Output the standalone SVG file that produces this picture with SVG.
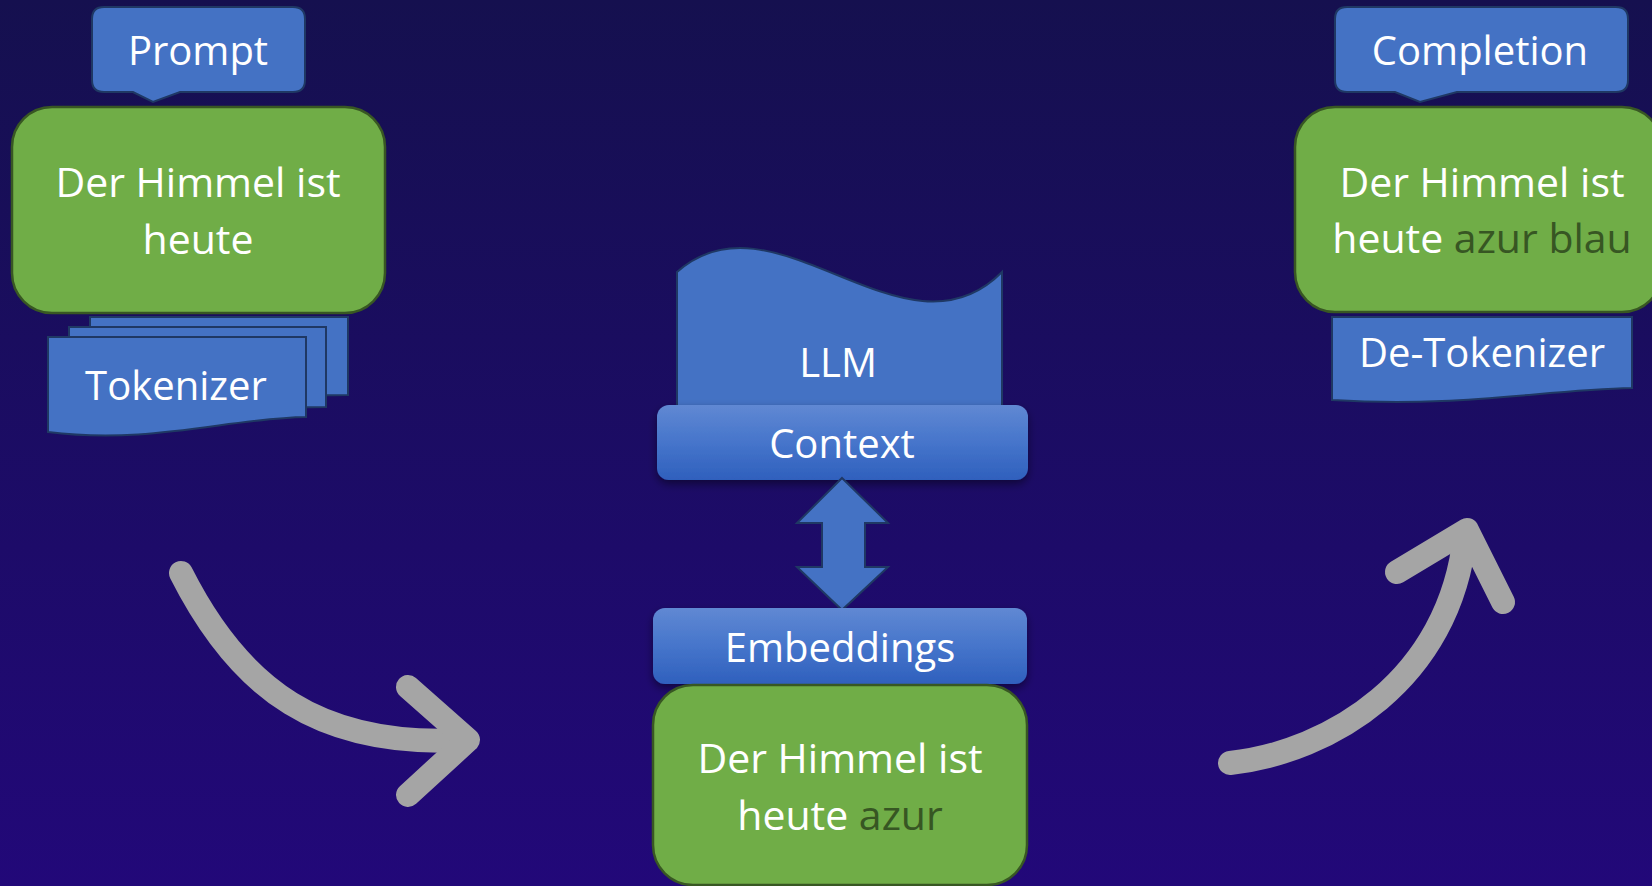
<svg xmlns="http://www.w3.org/2000/svg" width="1652" height="886" viewBox="0 0 1652 886">
  <defs>
    <linearGradient id="bg" x1="0" y1="0" x2="0" y2="1">
      <stop offset="0" stop-color="#15104f"/>
      <stop offset="1" stop-color="#220879"/>
    </linearGradient>
    <linearGradient id="bar" x1="0" y1="0" x2="0" y2="1">
      <stop offset="0" stop-color="#6088d3"/>
      <stop offset="0.5" stop-color="#4675cb"/>
      <stop offset="1" stop-color="#2f60bd"/>
    </linearGradient>
    <filter id="shadow" x="-10%" y="-20%" width="120%" height="160%">
      <feDropShadow dx="0" dy="4" stdDeviation="4" flood-color="#000000" flood-opacity="0.45"/>
    </filter>
  </defs>
  <style>
    .blue { fill: #4472c4; stroke: #1f3864; stroke-width: 2; }
    .green { fill: #70ad47; stroke: #385723; stroke-width: 2.5; }
    .bar { fill: url(#bar); filter: url(#shadow); }
    .lbl { font-family: "Open Sans", "Noto Sans", sans-serif; font-size: 40px; fill: #ffffff; text-anchor: middle; }
    .body { font-family: "Open Sans", "Noto Sans", sans-serif; font-size: 41px; fill: #ffffff; text-anchor: middle; }
    .new { fill: #375623; }
    .flow { fill: none; stroke: #a5a5a5; stroke-width: 24; stroke-linecap: round; stroke-linejoin: round; }
  </style>

  <rect width="1652" height="886" fill="url(#bg)"/>

  <!-- Prompt side -->
  <g id="prompt">
    <path class="blue" d="M104,7 H293 Q305,7 305,19 V80 Q305,92 293,92 H180 L153,102 L133,92 H104 Q92,92 92,80 V19 Q92,7 104,7 Z"/>
    <text class="lbl" x="198" y="65">Prompt</text>
  </g>
  <g id="input-text">
    <rect class="green" x="12" y="107" width="373" height="206" rx="40"/>
    <text class="body" x="198" y="197">Der Himmel ist</text>
    <text class="body" x="198" y="254">heute</text>
  </g>
  <g id="tokenizer">
    <path class="blue" d="M90,317 H348 V395 C300,396 200,392 90,400 Z"/>
    <path class="blue" d="M69,327 H326 V407 C280,408 180,404 69,412 Z"/>
    <path class="blue" d="M48,337 H306 V417 C230,418 150,445 48,432 Z"/>
    <text class="lbl" x="176" y="400">Tokenizer</text>
  </g>

  <!-- Model in the middle -->
  <g id="llm">
    <path class="blue" d="M677,272 C775,185 905,370 1002,272 V412 H677 Z"/>
    <text class="lbl" x="838" y="377">LLM</text>
  </g>
  <g id="context">
    <rect class="bar" x="657" y="405" width="371" height="75" rx="12"/>
    <text class="lbl" x="842" y="458">Context</text>
  </g>
  <g id="exchange">
    <path class="blue" d="M842,478 L888,523 H865 V567 H888 L842,610 L797,567 H822 V523 H797 Z"/>
  </g>
  <g id="embeddings">
    <rect class="bar" x="653" y="608" width="374" height="76" rx="12"/>
    <text class="lbl" x="840" y="662">Embeddings</text>
  </g>
  <g id="context-text">
    <rect class="green" x="653" y="685" width="374" height="200" rx="40"/>
    <text class="body" x="840" y="773">Der Himmel ist</text>
    <text class="body" x="840" y="830">heute <tspan class="new">azur</tspan></text>
  </g>

  <!-- Completion side -->
  <g id="completion">
    <path class="blue" d="M1347,7 H1616 Q1628,7 1628,19 V80 Q1628,92 1616,92 H1457 L1420,102 L1395,92 H1347 Q1335,92 1335,80 V19 Q1335,7 1347,7 Z"/>
    <text class="lbl" x="1480" y="65">Completion</text>
  </g>
  <g id="output-text">
    <rect class="green" x="1295" y="107" width="367" height="205" rx="40"/>
    <text class="body" x="1482" y="197">Der Himmel ist</text>
    <text class="body" x="1482" y="253">heute <tspan class="new">azur blau</tspan></text>
  </g>
  <g id="detokenizer">
    <path class="blue" d="M1332,317 H1632 V388 C1540,390 1460,408 1332,400 Z"/>
    <text class="lbl" x="1482" y="367">De-Tokenizer</text>
  </g>

  <!-- Flow arrows -->
  <g id="connectors">
    <path class="flow" d="M181,573 C240,690 320,748 465,740"/>
    <path class="flow" d="M408,687 L468,740 L408,795"/>
    <path class="flow" d="M1230,763 C1330,752 1450,680 1465,535"/>
    <path class="flow" d="M1397,572 L1467,530 L1503,602"/>
  </g>
</svg>
